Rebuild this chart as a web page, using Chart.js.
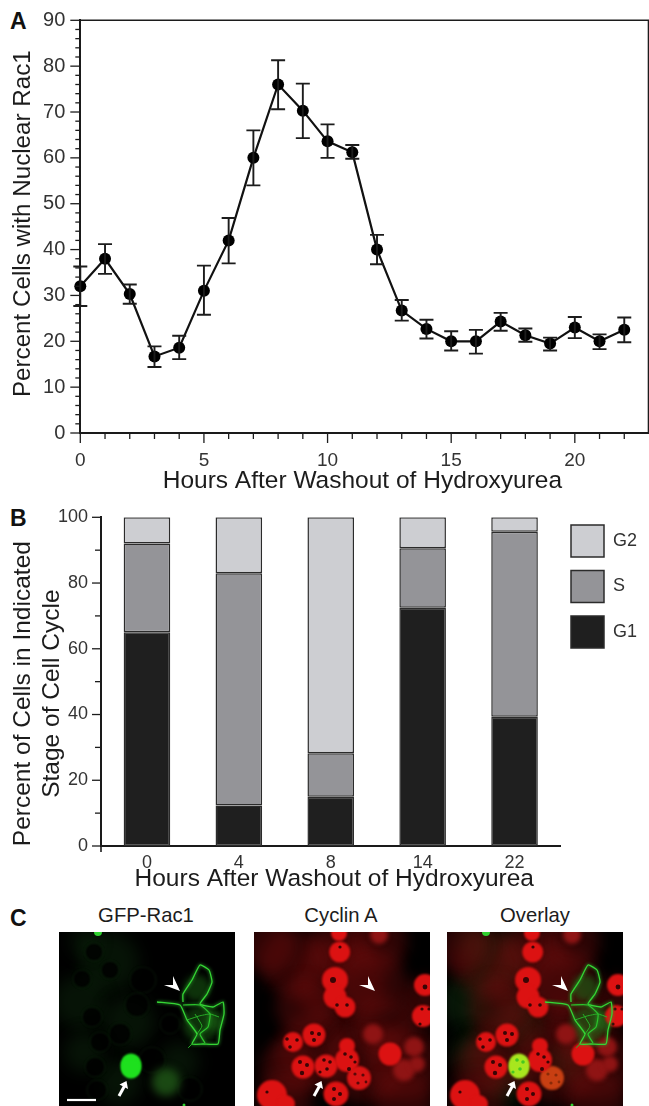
<!DOCTYPE html>
<html><head><meta charset="utf-8">
<script src="https://cdn.jsdelivr.net/npm/chart.js@4"></script>
<style>
html,body{margin:0;padding:0;background:#fff;width:649px;height:1106px;overflow:hidden;font-family:"Liberation Sans",sans-serif}
canvas{position:absolute;display:block}
.t{position:absolute;color:#1c1c1c;white-space:nowrap}
.p{font-weight:bold;font-size:23px;color:#111}
.c{font-size:20.3px;transform:translateX(-50%)}
</style></head><body>
<div class="t p" style="left:10px;top:8px">A</div>
<div class="t p" style="left:10px;top:505px">B</div>
<div class="t p" style="left:10px;top:905px">C</div>
<div class="t c" style="left:146px;top:904px">GFP-Rac1</div>
<div class="t c" style="left:341px;top:904px">Cyclin A</div>
<div class="t c" style="left:535px;top:904px">Overlay</div>
<canvas id="a" style="left:0;top:0"></canvas>
<canvas id="b" style="left:0;top:500px"></canvas>
<canvas id="c1" style="left:59px;top:932px;filter:blur(.35px)"></canvas>
<canvas id="c2" style="left:254px;top:932px;filter:blur(.35px)"></canvas>
<canvas id="c3" style="left:447px;top:932px;filter:blur(.35px)"></canvas>
<script>
// ---- Panel A data
const hours=[0,1,2,3,4,5,6,7,8,9,10,11,12,13,14,15,16,17,18,19,20,21,22];
const pctNuclear=[32,38,30.3,16.7,18.6,31,42,60,76,70.3,63.6,61.2,40,26.7,22.7,20,20,24.3,21.3,19.5,23,20,22.5];
const errLow=[27.7,34.7,28.2,14.4,16.1,25.8,37,54,70.6,64.3,60,59.8,36.8,24.5,20.6,18,17.3,22.3,19.9,18,20.7,18.3,19.8];
const errHigh=[36.3,41.2,32.4,18.9,21.2,36.5,46.9,66,81.3,76.2,67.3,62.8,43.2,29,24.7,22.2,22.5,26.2,22.8,20.8,25.3,21.5,25.2];
// ---- Panel B data
const stageHours=['0','4','8','14','22'];
const g1=[65,12.3,15,72.5,39.3];
const s=[27,70.7,13.2,18.1,56.3];
const g2=[8,17,71.8,9.4,4.4];
const FONT='"Liberation Sans",sans-serif';
const INK='#1c1c1c';

const marks={id:'marks',
  afterLayout(ch,a,o){ // shift axis titles to where the figure puts them
    for(const k in (o.titleShift||{})){const sc=ch.scales[k],d=o.titleShift[k];
      if(sc.__wrapped)continue;sc.__wrapped=true;const f=sc.drawTitle;
      sc.drawTitle=function(){const t=[this.left,this.right,this.top,this.bottom];
        this.left+=d[0];this.right+=d[0];this.top+=d[1];this.bottom+=d[1];f.call(this);
        [this.left,this.right,this.top,this.bottom]=t;};}
    if(o.legendAt&&ch.legend){const L=ch.legend,p=L.options.labels.padding;L.left=o.legendAt[0]-p;L.top=o.legendAt[1]-p;}
  },
  afterDatasetsDraw(ch,a,o){const c=ch.ctx,{x,y}=ch.scales;c.save();c.strokeStyle=INK;
    if(o.err){c.lineWidth=1.9;
      hours.forEach((h,i)=>{const px=x.getPixelForValue(h),lo=y.getPixelForValue(errLow[i]),hi=y.getPixelForValue(errHigh[i]);
        c.beginPath();c.moveTo(px,lo);c.lineTo(px,hi);c.moveTo(px-7,lo);c.lineTo(px+7,lo);c.moveTo(px-7,hi);c.lineTo(px+7,hi);c.stroke();});}
    if(o.box){const r=ch.chartArea;c.lineWidth=1.6;c.beginPath();c.moveTo(r.left,r.top);c.lineTo(r.right,r.top);c.lineTo(r.right,r.bottom);c.stroke();}
    c.lineWidth=1.3;
    y.ticks.forEach((t,i)=>{const p=y.getPixelForTick(i),l=t.label!==''?o.yLen[0]:o.yLen[1];c.beginPath();c.moveTo(y.right,p);c.lineTo(y.right-l,p);c.stroke();});
    if(o.xLen)x.ticks.forEach((t,i)=>{const p=x.getPixelForTick(i),l=t.label!==''?o.xLen[0]:o.xLen[1];c.beginPath();c.moveTo(p,x.top);c.lineTo(p,x.top+l);c.stroke();});
    if(o.stem){c.lineWidth=1.6;c.beginPath();c.moveTo(y.right,y.bottom);c.lineTo(y.right,y.bottom+o.stem);c.stroke();}
    c.restore();}
};

function size(id,w,h){const e=document.getElementById(id);e.width=w;e.height=h;e.style.width=w+'px';e.style.height=h+'px';return e;}
const fitY=w=>s=>{s.width=w;s.paddingTop=0;s.paddingBottom=0;};
const fitX=h=>s=>{s.height=h;s.paddingLeft=0;s.paddingRight=0;};

new Chart(size('a',649,500),{type:'line',plugins:[marks],
 data:{datasets:[{data:hours.map((h,i)=>({x:h,y:pctNuclear[i]})),borderColor:'#111',borderWidth:2.2,tension:0,clip:false,
   pointRadius:6,pointHoverRadius:6,pointBackgroundColor:'#000',pointBorderColor:'#000',pointBorderWidth:0}]},
 options:{animation:false,responsive:false,devicePixelRatio:1,events:[],
  layout:{autoPadding:false,padding:{top:20.3,right:.5,left:0,bottom:0}},
  plugins:{legend:{display:false},tooltip:{enabled:false},
   marks:{err:true,box:true,yLen:[10,5],xLen:[10,6],titleShift:{y:[9,-3],x:[-2,-4]}}},
  scales:{
   x:{type:'linear',min:0,max:22.98,offset:false,afterFit:fitX(67),
     grid:{display:false,drawTicks:false},border:{color:'#1a1a1a',width:2},
     afterBuildTicks(s){s.ticks=hours.map(v=>({value:v}));},
     ticks:{autoSkip:false,maxRotation:0,padding:16,color:'#333',font:{family:FONT,size:19},callback:v=>v%5===0?String(v):''},
     title:{display:true,text:'Hours After Washout of Hydroxyurea',color:INK,font:{family:FONT,size:24.5},padding:{top:0,bottom:0}}},
   y:{min:0,max:90,afterFit:fitY(80.3),
     grid:{display:false,drawTicks:false},border:{color:'#1a1a1a',width:2},
     ticks:{stepSize:2,autoSkip:false,padding:15,color:'#333',font:{family:FONT,size:20},callback:v=>v%10===0?String(v):''},
     title:{display:true,text:'Percent Cells with Nuclear Rac1',color:INK,font:{family:FONT,size:24.2},padding:{top:0,bottom:0}}}
  }}});

const stage=(label,data,col)=>({label,data,backgroundColor:col,borderColor:'#2b2b2b',borderWidth:1.5,barPercentage:.507,categoryPercentage:1,borderSkipped:false});
new Chart(size('b',650,400),{type:'bar',plugins:[marks],
 data:{labels:stageHours,datasets:[stage('G1',g1,'#1f1f1f'),stage('S',s,'#949498'),stage('G2',g2,'#cdced2')]},
 options:{animation:false,responsive:false,devicePixelRatio:1,events:[],
  layout:{autoPadding:false,padding:{top:17.3,left:0,right:0,bottom:0}},
  plugins:{tooltip:{enabled:false},
   legend:{position:'right',align:'start',reverse:true,labels:{boxWidth:33,boxHeight:32,padding:13.5,color:'#333',font:{family:FONT,size:18}}},
   marks:{yLen:[9,6],stem:6,titleShift:{y:[8.5,12],x:[3.5,-6]},legendAt:[571,25]}},
  scales:{
   x:{stacked:true,afterFit:fitX(54),grid:{display:false,drawTicks:false},border:{color:'#1a1a1a',width:2},
     ticks:{padding:6,maxRotation:0,color:'#333',font:{family:FONT,size:18}},
     title:{display:true,text:'Hours After Washout of Hydroxyurea',color:INK,font:{family:FONT,size:24.5},padding:{top:0,bottom:0}}},
   y:{stacked:true,min:0,max:100,afterFit:fitY(101),grid:{display:false,drawTicks:false},border:{color:'#1a1a1a',width:2},
     ticks:{stepSize:10,autoSkip:false,padding:13,color:'#333',font:{family:FONT,size:18},callback:v=>v%20===0?String(v):''},
     title:{display:true,text:['Percent of Cells in Indicated','Stage of Cell Cycle'],color:INK,font:{family:FONT,size:24.5,lineHeight:1.18},padding:{top:0,bottom:0}}}
  }}});

// ---- Panel C: micrograph features on an image grid of 176 x 174
const redGlow=[[85,50,45],[85,15,30],[125,10,28],[60,120,38],[110,130,42],[150,130,38],[35,135,28],[170,70,24],[130,95,30],[40,30,34],[15,15,26],[50,75,28],[118,50,34],[30,168,28],[150,168,30]];
const brightNuclei=[[85.7,20,10.5],[85,1,8],[81,48,13],[81,65,11.5],[91,75,10.5],[171,53,11],[169,84,11],[136,122,11.5],[93,128,12],[93,114,8],[60,103,11.5],[39,110,10],[49,135,11.5],[82,162,12.5],[18,163,15],[32,172,9]];
const dimNuclei=[[125,3,9],[119,102,10],[160,115,10],[150,138,11],[163,132,8]];
const lateNucleus=[[105,146,12]];
const cyclinAtGfp=[[72,134,11.5]];
const darkSpots=[[79,48,3],[86,15,1.6],[58,101,2],[65,102,2],[60,108,2],[33,107,1.8],[43,108,1.8],[36,115,1.8],[46,130,2],[53,133,2],[48,141,2.2],[91,122,1.8],[97,125,1.8],[95,137,2],[101,130,1.6],[83,73,1.8],[93,73,1.8],[80,157,2],[86,162,2],[80,167,2],[13,160,1.6],[171,55,2.4],[168,77,1.6],[175,77,1.6],[166,92,1.6]];
const gfpNucleus=[[72,134,10.5],[72,131,9.5],[72,137,9.5]];
const nucleusSpots=[[70,128,1.8],[76,130,1.8],[73,137,1.8],[66,140,1.6]];
const lateSpots=[[101,142,1.6],[109,143,1.6],[104,151,1.6],[112,150,1.4]];
const greenHoles=[[35,20,9],[51,38,9],[23,47,9],[84,48,13],[78,73,12],[33,85,10],[61,102,11],[41,110,10],[93,128,13],[111,92,10],[36,135,10],[131,157,12],[38,158,10]];
const greenGlow=[[50,30,30],[20,70,26],[70,90,26],[60,150,22],[25,10,14],[120,130,20],[25,120,20]];
const cellFill=[[138,56,13],[142,92,18],[155,88,10]];
const faintCell=[[107,150,14]];
const greenSpots=[[39,0,4],[125,173,1.5]];
const outline=[[124,70],[124,62],[133,48],[141,33],[150,38],[153,50],[148,62],[141,72],[154,75],[164,70],[165,82],[161,98],[159,112],[144,112],[133,112],[138,102],[128,88],[121,73],[98,70]];
const inner1=[[124,73],[141,73],[151,82],[149,95],[141,102],[146,111]];
const inner2=[[128,88],[140,84],[151,82],[160,85]];
const inner3=[[136,82],[143,94],[138,102]];
const inner4=[[133,112],[129,116]];
const arrowHead=[[121,59],[105,53],[114,53],[114,44]];
const arrowTail=[[67.5,149],[60,164]];
const scaleBar=[[8,168],[37,168]];

const bub=(pts,color,blur,extra)=>({type:'bubble',data:pts.map(p=>({x:p[0],y:p[1],r:p[2]})),backgroundColor:color,borderWidth:0,blur:blur,...(extra||{})});
const path=(pts,color,w,blur)=>({type:'line',data:pts.map(p=>({x:p[0],y:p[1]})),borderColor:color,borderWidth:w,pointRadius:0,tension:.15,blur:blur});

const micro={id:'micro',
 beforeDraw(ch){const c=ch.ctx;c.save();c.fillStyle='#000';c.fillRect(0,0,ch.width,ch.height);c.restore();},
 beforeDatasetDraw(ch,a){const d=ch.data.datasets[a.index];ch.ctx.save();if(d.blur)ch.ctx.filter='blur('+d.blur+'px)';},
 afterDatasetDraw(ch){ch.ctx.restore();},
 afterDraw(ch,a,o){const c=ch.ctx,{x,y}=ch.scales,P=p=>[x.getPixelForValue(p[0]),y.getPixelForValue(p[1])];
  c.save();c.fillStyle='#fff';c.strokeStyle='#fff';
  c.beginPath();arrowHead.forEach((p,i)=>{const q=P(p);i?c.lineTo(q[0],q[1]):c.moveTo(q[0],q[1]);});c.closePath();c.fill();
  const t=P(arrowTail[0]),u=P(arrowTail[1]);c.lineWidth=3;c.beginPath();c.moveTo(u[0],u[1]);c.lineTo(t[0]-2,t[1]+5);c.stroke();
  c.beginPath();c.moveTo(t[0],t[1]);c.lineTo(t[0]-7,t[1]+3.5);c.lineTo(t[0]+1.5,t[1]+8);c.closePath();c.fill();
  if(o.bar){const l=P(scaleBar[0]),r=P(scaleBar[1]);c.lineWidth=2.2;c.beginPath();c.moveTo(l[0],l[1]);c.lineTo(r[0],r[1]);c.stroke();}
  c.restore();}
};
function microChart(id,layers,bar){
 new Chart(size(id,176,174),{type:'bubble',plugins:[micro],data:{datasets:layers},
  options:{animation:false,responsive:false,devicePixelRatio:1,events:[],layout:{autoPadding:false,padding:0},
   plugins:{legend:{display:false},tooltip:{enabled:false},micro:{bar}},
   scales:{x:{type:'linear',min:0,max:176,display:false},y:{type:'linear',min:0,max:174,reverse:true,display:false}}}});
}
const greenLines=()=>[path(outline,'#35d535',1.3,.4),path(inner1,'#2cc42c',1.2,.4),path(inner2,'#28b028',1,.4),path(inner3,'#28b028',1,.4),path(inner4,'#28b028',1,.4),path(outline,'rgba(40,170,40,.5)',3.2,1.4),path(inner1,'rgba(40,170,40,.45)',3,1.4)];
const web={borderWidth:.8,borderColor:'rgba(40,100,40,.3)'};
// the first dataset in a chart is painted last, so layers run top to bottom
microChart('c1',[
  ...greenLines(),
  bub(gfpNucleus,'#1ee01e',.8),
  bub(greenSpots,'#2fd02f',.5),
  bub(cellFill,'rgba(30,120,25,.42)',3),
  bub(faintCell,'rgba(32,90,24,.8)',4),
  bub(greenHoles,'rgba(0,0,0,.8)',1.2,web),
  bub(greenGlow,'rgba(22,70,22,.28)',8)
],true);
microChart('c2',[
  bub(nucleusSpots,'#3a0505',.5),
  bub(lateSpots,'#5a0808',.6),
  bub(darkSpots,'#3a0505',.5),
  bub(brightNuclei,'#dc1212',1),
  bub(cyclinAtGfp,'#dd1414',1),
  bub(lateNucleus,'#d81414',1),
  bub(dimNuclei,'#8f1414',2),
  bub(redGlow,'rgba(105,12,12,.45)',7)
],false);
microChart('c3',[
  ...greenLines(),
  bub(nucleusSpots,'#47c820',.5),
  bub(gfpNucleus,'#a8e61e',.8),
  bub(greenSpots,'#2fd02f',.5),
  bub(darkSpots,'#3a0505',.5),
  bub(brightNuclei,'#dc1212',1),
  bub(lateSpots,'#8a2a08',.6),
  bub(lateNucleus,'#c83f12',1.2),
  bub(dimNuclei,'#8f1414',2),
  bub(cellFill,'rgba(30,120,25,.5)',3),
  bub(redGlow,'rgba(105,12,12,.42)',7),
  bub(greenGlow,'rgba(22,70,22,.35)',8)
],false);
</script></body></html>
